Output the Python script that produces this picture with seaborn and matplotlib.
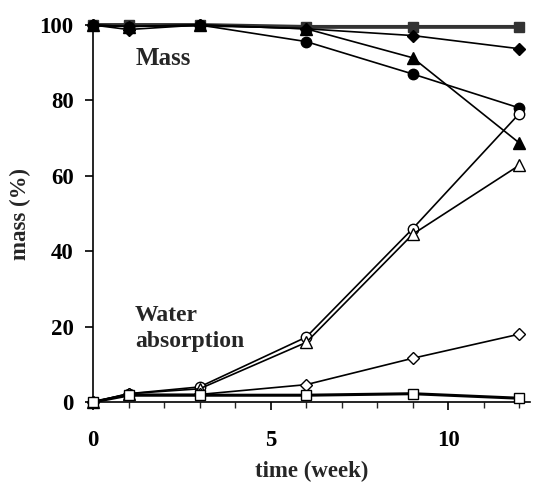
import matplotlib
matplotlib.use("Agg")
import matplotlib.pyplot as plt
import seaborn as sns
import pandas as pd
from matplotlib.ticker import MultipleLocator

weeks = [0, 1, 3, 6, 9, 12]

mass_square = [100, 100, 100, 99.5, 99.5, 99.5]
mass_diamond = [100, 98.8, 100, 99, 97.2, 93.7]
mass_circle = [100, 99.6, 100, 95.6, 87, 78]
mass_triangle = [100, 99.6, 100, 99, 91.3, 68.7]

water_circle = [0, 2.2, 4, 17.2, 46, 76.5]
water_triangle = [0, 2.2, 3.5, 15.8, 44.5, 62.8]
water_diamond = [0, 2, 2, 4.6, 11.6, 18]
water_square = [0, 1.8, 1.8, 1.8, 2.2, 1]

series = [
    ("mass_square", mass_square, "s", "#333333", "#333333", 2.8),
    ("mass_diamond", mass_diamond, "D", "black", "black", 1.2),
    ("mass_circle", mass_circle, "o", "black", "black", 1.2),
    ("mass_triangle", mass_triangle, "^", "black", "black", 1.2),
    ("water_circle", water_circle, "o", "black", "white", 1.2),
    ("water_triangle", water_triangle, "^", "black", "white", 1.2),
    ("water_diamond", water_diamond, "D", "black", "white", 1.2),
    ("water_square", water_square, "s", "black", "white", 2.2),
]

rows = []
for name, vals, *_ in series:
    for w, v in zip(weeks, vals):
        rows.append({"series": name, "week": w, "value": v})
df = pd.DataFrame(rows)

sns.set_style("ticks")
plt.rcParams["font.family"] = ["Liberation Serif", "DejaVu Serif"]
plt.rcParams["font.weight"] = "bold"

fig = plt.figure(figsize=(5.35, 4.83), dpi=100)
ax = fig.add_axes([93 / 535, 81 / 483, 437 / 535, 377 / 483])

for name, vals, mk, ec, fc, lw in series:
    sub = df[df["series"] == name]
    ms = 6 if mk == "D" else 7.5
    if mk == "^":
        ms = 8
    sns.lineplot(data=sub, x="week", y="value", ax=ax, color=ec, linewidth=lw,
                 marker=mk, markersize=ms, markerfacecolor=fc,
                 markeredgecolor="black" if fc == "white" else ec,
                 markeredgewidth=1.0, clip_on=False, zorder=3)

ax.set_xlim(0, 12.3)
ax.set_ylim(0, 100)
ax.xaxis.set_major_locator(MultipleLocator(5))
ax.xaxis.set_minor_locator(MultipleLocator(1))
ax.yaxis.set_major_locator(MultipleLocator(20))
ax.tick_params(axis="both", which="major", direction="out", length=6, width=1.2,
               labelsize=16.5, colors="black")
ax.tick_params(axis="x", which="major", pad=14.5)
ax.tick_params(axis="y", which="major", pad=8)
ax.tick_params(axis="x", which="minor", direction="out", length=4.5, width=1)
for lab in ax.get_xticklabels() + ax.get_yticklabels():
    lab.set_fontweight("bold")

sns.despine(ax=ax, top=True, right=True)
for s in ["left", "bottom"]:
    ax.spines[s].set_linewidth(1.2)
    ax.spines[s].set_color("black")

ax.set_xlabel("time (week)", fontsize=16.5, fontweight="bold", labelpad=7)
ax.set_ylabel("mass (%)", fontsize=16.5, fontweight="bold", labelpad=6)

ax.text(1.21, 91.2, "Mass", fontsize=18, fontweight="bold", ha="left", va="center")
ax.text(1.18, 19.5, "Water\nabsorption", fontsize=17, fontweight="bold", ha="left",
        va="center", linespacing=1.3)

fig.savefig("out.png", dpi=100)
